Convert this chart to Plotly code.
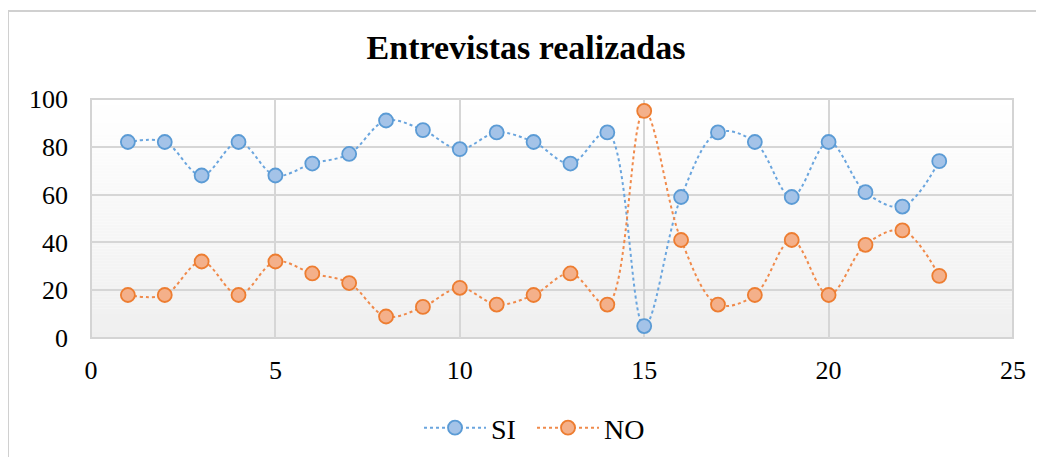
import plotly.graph_objects as go

x_vals = list(range(1, 24))
si_vals = [82, 82, 68, 82, 68, 73, 77, 91, 87, 79, 86, 82, 73, 86, 5, 59, 86, 82, 59, 82, 61, 55, 74]
no_vals = [18, 18, 32, 18, 32, 27, 23, 9, 13, 21, 14, 18, 27, 14, 95, 41, 14, 18, 41, 18, 39, 45, 26]
x_ticks = [0, 5, 10, 15, 20, 25]
y_ticks = [0, 20, 40, 60, 80, 100]

FONT = "Liberation Serif"

# page body has an 8px margin: figure origin sits at (8, 8)
OFF = 8
W, H = 1036, 449
L, R, T, B = 91 - OFF, 31, 99 - OFF, 119
PW = 1013 - 91
PH = 338 - 99

fig = go.Figure()
fig.add_trace(go.Scatter(
    x=x_vals, y=si_vals, name="SI", mode="lines+markers",
    line=dict(color="#6aa5de", width=2, dash="dot", shape="spline", smoothing=1.0),
    marker=dict(size=14, color="#a4c3e8", line=dict(color="#5b9bd5", width=1.8)),
))
fig.add_trace(go.Scatter(
    x=x_vals, y=no_vals, name="NO", mode="lines+markers",
    line=dict(color="#f08a4b", width=2, dash="dot", shape="spline", smoothing=1.0),
    marker=dict(size=14, color="#f4b08a", line=dict(color="#ed7d31", width=1.8)),
))

# gradient background bands
shapes = []
n = 80
for i in range(n):
    f0 = i / n
    f1 = (i + 1) / n
    t = 1 - (f0 + f1) / 2  # 0 top, 1 bottom
    g = int(round(255 - 16 * t))
    shapes.append(dict(type="rect", xref="x domain", yref="y domain",
                       x0=0, x1=1, y0=f0, y1=f1, layer="below",
                       fillcolor=f"rgb({g},{g},{g})", line=dict(width=0)))
# plot area border
shapes.append(dict(type="rect", xref="x domain", yref="y domain", x0=0, x1=1, y0=0, y1=1,
                   layer="below", line=dict(color="#d4d4d4", width=2)))
# outer chart frame
shapes.append(dict(type="rect", xref="paper", yref="paper",
                   x0=(8 - 91) / PW, x1=(1060 - 91) / PW,
                   y0=(338 - 470) / PH, y1=(338 - 11) / PH,
                   line=dict(color="#d0d0d0", width=2), fillcolor="rgba(0,0,0,0)"))

fig.update_layout(
    width=W, height=H,
    margin=dict(l=L, r=R, t=T, b=B, pad=0, autoexpand=False),
    paper_bgcolor="white", plot_bgcolor="white",
    font=dict(family=FONT, color="black", size=26),
    title=dict(text="<b>Entrevistas realizadas</b>", x=0.5, xanchor="center",
               y=1 - (47 - OFF) / H, yanchor="middle", font=dict(family=FONT, size=34, color="black")),
    showlegend=True,
    legend=dict(orientation="h", x=(532 - 91) / PW, xanchor="center", y=(338 - 428) / PH, yanchor="middle",
                font=dict(family=FONT, size=28, color="black"), bgcolor="rgba(0,0,0,0)",
                itemwidth=62, entrywidth=36, entrywidthmode="pixels"),
    shapes=shapes,
    xaxis=dict(range=[0, 25], tickvals=x_ticks, showgrid=True, gridcolor="#d6d6d6", gridwidth=2,
               zeroline=False, showline=False, ticks="", ticklabelstandoff=14,
               tickfont=dict(family=FONT, size=26, color="black")),
    yaxis=dict(range=[0, 100], tickvals=y_ticks, showgrid=True, gridcolor="#d6d6d6", gridwidth=2,
               zeroline=False, showline=False, ticks="", ticklabelstandoff=22,
               tickfont=dict(family=FONT, size=26, color="black")),
)

fig.write_html("out.html")
